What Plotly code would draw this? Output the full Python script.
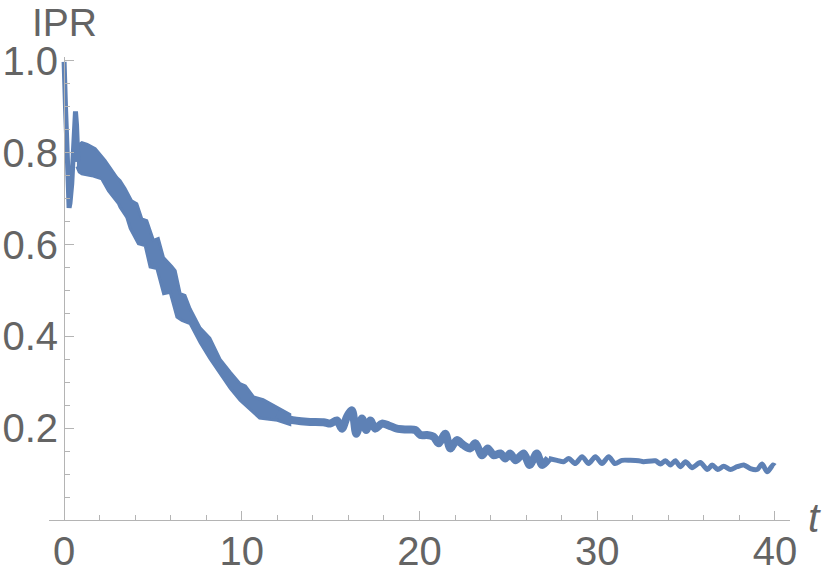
import plotly.graph_objects as go

WIDTH, HEIGHT = 822, 578
CURVE_COLOR = "rgb(94,129,181)"
AXIS_COLOR = "rgb(180,180,180)"
TEXT_COLOR = "rgb(100,100,100)"
FONT = "Liberation Sans, Arial, sans-serif"

# initial transient (t < 0.8), drawn as a stroke
spike_t = [0.0, 0.02, 0.08, 0.17, 0.24, 0.28, 0.33, 0.43, 0.52, 0.58, 0.64, 0.70, 0.75, 0.78]
spike_ipr = [0.998, 0.949, 0.898, 0.804, 0.732, 0.680, 0.690, 0.732, 0.804, 0.877, 0.890, 0.860, 0.800, 0.780]

# fast-oscillating region: upper / lower envelope of the band
band_up_t = [0.72, 0.85, 1.0, 1.3, 1.75, 2.3, 2.97, 3.15, 3.43, 3.8, 4.09, 4.37, 4.65, 5.03,
             5.3, 5.59, 6.06, 6.25, 6.53, 6.8, 7.09, 7.66, 8.2, 8.78, 9.35, 9.9, 10.2,
             10.66, 11.2, 11.97, 12.7]
band_up = [0.800, 0.818, 0.822, 0.818, 0.809, 0.783, 0.746, 0.739, 0.722, 0.695, 0.689, 0.656,
           0.652, 0.609, 0.613, 0.572, 0.552, 0.543, 0.493, 0.489, 0.460, 0.418, 0.396, 0.350,
           0.322, 0.297, 0.292, 0.268, 0.262, 0.246, 0.230]
band_lo_t = [0.72, 0.85, 1.0, 1.56, 2.12, 2.5, 3.06, 3.15, 3.53, 3.72, 4.18, 4.56, 4.84, 5.22,
             5.6, 5.97, 6.35, 6.63, 7.09, 7.66, 8.2, 8.78, 9.35, 9.9, 10.5, 11.0, 12.0, 12.7]
band_lo = [0.770, 0.758, 0.754, 0.750, 0.743, 0.717, 0.689, 0.681, 0.659, 0.635, 0.602, 0.598,
           0.551, 0.548, 0.493, 0.496, 0.442, 0.435, 0.428, 0.386, 0.352, 0.319, 0.287, 0.261,
           0.239, 0.222, 0.217, 0.208]

# middle section (thick, noisy)
mid_t = [12.0, 12.7, 13.67, 14.6, 14.98, 15.35, 15.64, 15.92, 16.2, 16.44, 16.76, 17.0, 17.23,
         17.5, 17.89, 18.26, 18.73, 19.3, 19.76, 20.05, 20.42, 20.8, 21.08, 21.45, 21.73, 22.1,
         22.48, 22.86, 23.14, 23.52, 23.84, 24.17, 24.55, 24.83, 25.1, 25.4, 25.86, 26.2, 26.6,
         26.9, 27.27]
mid_ipr = [0.232, 0.219, 0.214, 0.213, 0.210, 0.217, 0.199, 0.225, 0.239, 0.188, 0.221, 0.196,
           0.217, 0.199, 0.210, 0.206, 0.199, 0.197, 0.196, 0.185, 0.185, 0.181, 0.167, 0.188,
           0.156, 0.174, 0.163, 0.156, 0.167, 0.141, 0.156, 0.141, 0.145, 0.134, 0.145, 0.130,
           0.145, 0.120, 0.145, 0.120, 0.134]

# late section (thin line with slow wiggles)
late_t = [27.27, 27.74, 28.11, 28.4, 28.77, 29.15, 29.52, 29.9, 30.27, 30.65, 31.0, 31.4, 31.87,
          32.34, 32.6, 33.28, 33.56, 33.84, 34.12, 34.4, 34.68, 34.97, 35.34, 35.8, 36.2, 36.47,
          36.78, 37.12, 37.5, 37.87, 38.25, 38.62, 39.0, 39.28, 39.56, 39.9, 40.0]
late_ipr = [0.134, 0.130, 0.127, 0.134, 0.123, 0.138, 0.123, 0.138, 0.123, 0.138, 0.123, 0.130,
            0.130, 0.129, 0.127, 0.129, 0.122, 0.129, 0.120, 0.129, 0.116, 0.127, 0.114, 0.125,
            0.110, 0.120, 0.110, 0.117, 0.110, 0.116, 0.120, 0.112, 0.110, 0.122, 0.105, 0.120,
            0.118]

x_major = [0, 10, 20, 30, 40]
x_minor = [2, 4, 6, 8, 12, 14, 16, 18, 22, 24, 26, 28, 32, 34, 36, 38]
y_major = [0.2, 0.4, 0.6, 0.8, 1.0]
y_minor = [0.05, 0.1, 0.15, 0.25, 0.3, 0.35, 0.45, 0.5, 0.55, 0.65, 0.7, 0.75, 0.85, 0.9, 0.95]

X_RANGE = [-0.85, 40.85]
Y_RANGE = [0, 1.0085]


def line_trace(t, y, width, shape="spline"):
    return go.Scatter(x=t, y=y, mode="lines", showlegend=False, hoverinfo="skip",
                      line=dict(color=CURVE_COLOR, width=width, shape=shape, smoothing=0.8))


fig = go.Figure()

# band as one closed polygon: upper edge forward, lower edge back
fig.add_trace(go.Scatter(
    x=band_up_t + band_lo_t[::-1],
    y=band_up + band_lo[::-1],
    mode="lines", fill="toself", fillcolor=CURVE_COLOR,
    line=dict(color=CURVE_COLOR, width=3),
    showlegend=False, hoverinfo="skip",
))
fig.add_trace(line_trace(spike_t, spike_ipr, 5, shape="linear"))
fig.add_trace(line_trace(mid_t, mid_ipr, 8))
fig.add_trace(line_trace(late_t, late_ipr, 5))

tick_font = dict(family=FONT, size=40, color=TEXT_COLOR)

fig.update_layout(
    width=WIDTH, height=HEIGHT,
    margin=dict(l=49, r=32, t=57, b=58, autoexpand=False),
    plot_bgcolor="white", paper_bgcolor="white",
    xaxis=dict(
        range=X_RANGE, showgrid=False, zeroline=False, automargin=False,
        showline=True, linecolor=AXIS_COLOR, linewidth=1,
        tickmode="array", tickvals=x_major, ticktext=[str(v) for v in x_major],
        ticks="inside", ticklen=9, tickcolor=AXIS_COLOR, tickwidth=1,
        minor=dict(tickmode="array", tickvals=x_minor, ticks="inside",
                   ticklen=5, tickcolor=AXIS_COLOR, tickwidth=1),
        tickfont=tick_font, ticklabelstandoff=-4,
    ),
    yaxis=dict(
        range=Y_RANGE, showgrid=False, zeroline=False, automargin=False,
        anchor="free", position=(0 - X_RANGE[0]) / (X_RANGE[1] - X_RANGE[0]),
        showline=True, linecolor=AXIS_COLOR, linewidth=1,
        tickmode="array", tickvals=y_major, ticktext=[f"{v:.1f}" for v in y_major],
        ticks="inside", ticklen=9, tickcolor=AXIS_COLOR, tickwidth=1,
        minor=dict(tickmode="array", tickvals=y_minor, ticks="inside",
                   ticklen=5, tickcolor=AXIS_COLOR, tickwidth=1),
        tickfont=tick_font, ticklabelstandoff=-2,
    ),
    annotations=[
        dict(text="IPR", xref="x", x=0, yref="paper", y=1.0745,
             xanchor="center", yanchor="middle", showarrow=False,
             font=dict(family=FONT, size=39, color=TEXT_COLOR)),
        dict(text="<i>t</i>", xref="paper", x=1.0337, yref="y", y=0.005,
             xanchor="center", yanchor="middle", showarrow=False,
             font=dict(family=FONT, size=41, color=TEXT_COLOR)),
    ],
)

# drop the default 8px page margin so the figure sits at the window origin
fig.write_html("out.html", config={"displayModeBar": False},
               post_script="document.body.style.margin = '0';")
